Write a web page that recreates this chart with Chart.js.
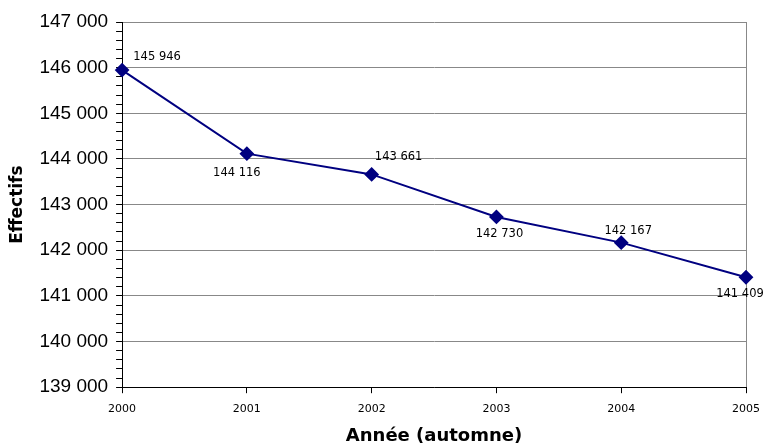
<!DOCTYPE html>
<html>
<head>
<meta charset="utf-8">
<script src="https://cdn.jsdelivr.net/npm/chart.js@4/dist/chart.umd.min.js"></script>
<style>
  html, body { margin: 0; padding: 0; background: #fff; }
  #wrap { width: 766px; height: 447px; }
</style>
</head>
<body>
<div id="wrap"><canvas id="chart" width="766" height="447"></canvas></div>
<script>
// données
const years = ['2000', '2001', '2002', '2003', '2004', '2005'];
const effectifs = [145946, 144116, 143661, 142730, 142167, 141409];

// décalage des étiquettes (px) par point
const labelOffsets = [[35, -13], [-10, 19], [27, -17], [3, 17], [7, -12], [-6, 17]];

const fmt = v => String(v).replace(/\B(?=(\d{3})+(?!\d))/g, ' ');

const pointLabels = {
  id: 'pointLabels',
  afterDatasetsDraw(chart) {
    const ctx = chart.ctx;
    const meta = chart.getDatasetMeta(0);
    ctx.save();
    ctx.font = '11.5px "DejaVu Sans", Verdana, sans-serif';
    ctx.fillStyle = '#000';
    ctx.textAlign = 'center';
    ctx.textBaseline = 'middle';
    meta.data.forEach((pt, i) => {
      const o = labelOffsets[i];
      ctx.fillText(fmt(effectifs[i]), pt.x + o[0], pt.y + o[1]);
    });
    ctx.restore();
  }
};

new Chart(document.getElementById('chart'), {
  type: 'line',
  data: {
    labels: years,
    datasets: [{
      data: effectifs,
      borderColor: '#000080',
      backgroundColor: '#000080',
      borderWidth: 2,
      pointStyle: 'rectRot',
      pointRadius: 6,
      pointHoverRadius: 6,
      tension: 0
    }]
  },
  options: {
    responsive: false,
    animation: false,
    layout: { padding: { top: 22, right: 20, left: 7, bottom: 0 } },
    plugins: { legend: { display: false }, tooltip: { enabled: false } },
    scales: {
      x: {
        type: 'category',
        offset: false,
        afterFit: s => { s.paddingRight = 0; },
        border: { color: '#000', width: 1 },
        grid: {
          drawOnChartArea: true,
          color: c => (c.index === years.length - 1 ? '#888' : 'transparent'),
          tickColor: '#000',
          tickLength: 6
        },
        ticks: { color: '#000', font: { family: '"DejaVu Sans", Verdana', size: 11 }, padding: 9, maxRotation: 0 },
        title: {
          display: true, text: 'Année (automne)', color: '#000',
          font: { family: '"DejaVu Sans", Verdana', size: 18, weight: 'bold' }, padding: { top: 1, bottom: 0 }
        }
      },
      y: {
        min: 139000,
        max: 147000,
        border: { color: '#000', width: 1 },
        grid: {
          color: c => (c.tick && c.tick.value % 1000 === 0 ? '#888' : 'transparent'),
          tickColor: '#000',
          tickLength: 6
        },
        ticks: {
          stepSize: 200,
          autoSkip: false,
          color: '#000',
          padding: 8,
          font: { family: '"Liberation Sans", Arial', size: 19 },
          callback: v => (v % 1000 === 0 ? fmt(v) : '')
        },
        title: {
          display: true, text: 'Effectifs', color: '#000',
          font: { family: '"DejaVu Sans", Verdana', size: 17, weight: 'bold' }, padding: { top: 0, bottom: 4 }
        }
      }
    }
  },
  plugins: [pointLabels]
});
</script>
</body>
</html>
